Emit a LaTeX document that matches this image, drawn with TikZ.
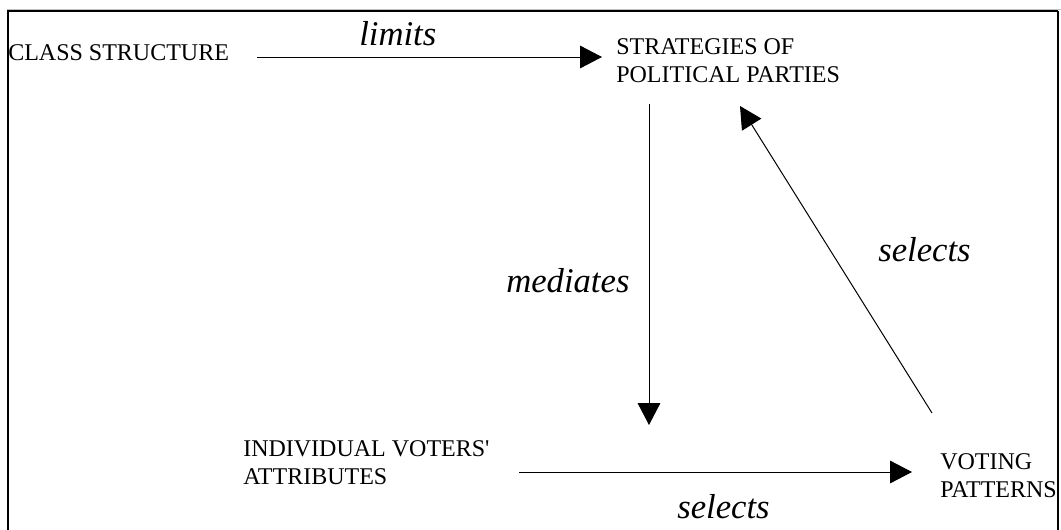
\documentclass[tikz,border=0pt]{standalone}
\usepackage{fontspec}
\setmainfont{Liberation Serif}[Ligatures=TeXOff]
\usetikzlibrary{arrows.meta}

\tikzset{
  term/.style={anchor=base west, inner sep=0pt, align=left,
    font=\fontsize{18}{20.5}\selectfont},
  verb/.style={anchor=base west, inner sep=0pt,
    font=\fontsize{26}{30}\selectfont\itshape},
  link/.style={line width=0.75pt, -{Triangle[length=16.5pt,width=17pt]}}
}

\begin{document}
\begin{tikzpicture}[x=0.75pt, y=-0.75pt]
  \useasboundingbox (0,0) rectangle (1061,529);
  % frame
  \draw[gray!50, line width=0.6pt] (7,9.3) -- (1061,9.3);
  \draw[line width=1.5pt] (8,545) -- (8,11) -- (1058,11);
  \draw[line width=0.9pt] (1058,11) -- (1058,545);
  % terms (base = last line)
  \node[term] (cls) at (8,60) {CLASS STRUCTURE};
  \node[term] (strat) at (616,82) {STRATEGIES OF\\POLITICAL PARTIES};
  \node[term] (indiv) at (243,484) {INDIVIDUAL VOTERS'\\ATTRIBUTES};
  \node[term] (vote) at (940,497) {VOTING\\PATTERNS};
  % verbs
  \node[verb] (limits) at (359,45) {limits};
  \node[verb] (mediates) at (506,292) {mediates};
  \node[verb] (selA) at (878,261) {selects};
  \node[verb] (selB) at (677,518) {selects};
  % arrow ends
  \coordinate (limS) at (257,57);
  \coordinate (limE) at (602,57);
  \coordinate (medS) at (649,104);
  \coordinate (medE) at (649,425);
  \coordinate (selBS) at (519,472);
  \coordinate (selBE) at (912,472);
  \coordinate (selAS) at (932,413);
  \coordinate (selAE) at (740,106);
  \draw[link] (limS) -- (limE);
  \draw[link] (medS) -- (medE);
  \draw[link] (selBS) -- (selBE);
  \draw[link] (selAS) -- (selAE);
\end{tikzpicture}
\end{document}
